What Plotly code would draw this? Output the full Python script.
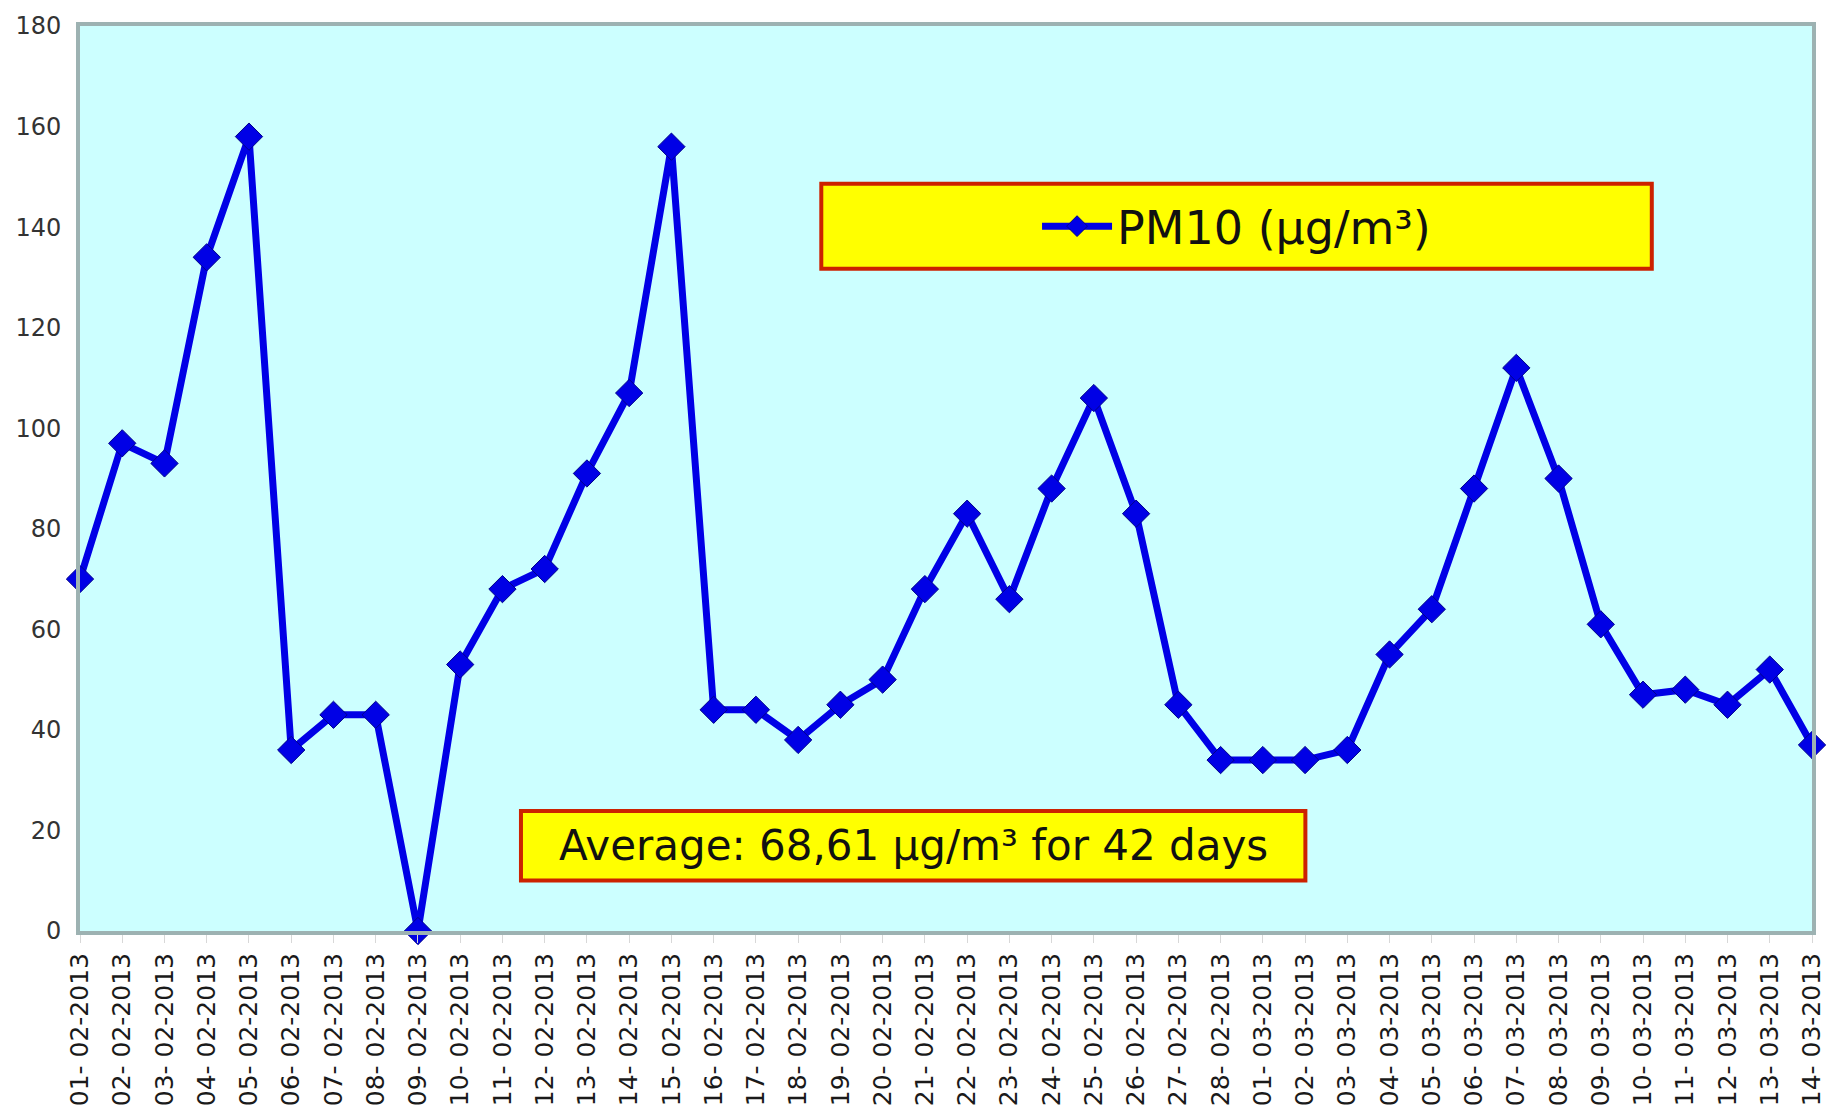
import plotly.graph_objects as go

dates = ["01- 02-2013", "02- 02-2013", "03- 02-2013", "04- 02-2013", "05- 02-2013",
         "06- 02-2013", "07- 02-2013", "08- 02-2013", "09- 02-2013", "10- 02-2013",
         "11- 02-2013", "12- 02-2013", "13- 02-2013", "14- 02-2013", "15- 02-2013",
         "16- 02-2013", "17- 02-2013", "18- 02-2013", "19- 02-2013", "20- 02-2013",
         "21- 02-2013", "22- 02-2013", "23- 02-2013", "24- 02-2013", "25- 02-2013",
         "26- 02-2013", "27- 02-2013", "28- 02-2013", "01- 03-2013", "02- 03-2013",
         "03- 03-2013", "04- 03-2013", "05- 03-2013", "06- 03-2013", "07- 03-2013",
         "08- 03-2013", "09- 03-2013", "10- 03-2013", "11- 03-2013", "12- 03-2013",
         "13- 03-2013", "14- 03-2013"]

pm10 = [70, 97, 93, 134, 158, 36, 43, 43, 0, 53,
        68, 72, 91, 107, 156, 44, 44, 38, 45, 50,
        68, 83, 66, 88, 106, 83, 45, 34, 34, 34,
        36, 55, 64, 88, 112, 90, 61, 47, 48, 45,
        52, 37]

y_ticks = [0, 20, 40, 60, 80, 100, 120, 140, 160, 180]

series_name = "PM10 (µg/m³)"
average_text = "Average: 68,61 µg/m³ for 42 days"

fig = go.Figure()
fig.add_trace(go.Scatter(
    x=dates, y=pm10, mode="lines+markers", name=series_name,
    line=dict(color="#0000E6", width=7),
    marker=dict(symbol="diamond", size=21, color="#0000E6",
                line=dict(color="#00008A", width=1)),
    cliponaxis=False,
))

box_line = dict(color="#CC2200", width=4)
# legend box
fig.add_shape(type="rect", xref="paper", yref="paper",
              x0=0.428, x1=0.9075, y0=0.7317, y1=0.8258,
              fillcolor="#FFFF00", line=box_line, layer="below")
# average box
fig.add_shape(type="rect", xref="paper", yref="paper",
              x0=0.2546, x1=0.7075, y0=0.0559, y1=0.1325,
              fillcolor="#FFFF00", line=box_line, layer="below")

fig.add_annotation(xref="paper", yref="paper", x=(0.2546 + 0.7075) / 2,
                   y=(0.0559 + 0.1325) / 2, text=average_text, showarrow=False,
                   xanchor="center", yanchor="middle",
                   font=dict(family="DejaVu Sans", size=42, color="#111111"))

fig.update_layout(
    width=1838, height=1118,
    margin=dict(l=80, r=18, t=19, b=186),
    paper_bgcolor="white",
    plot_bgcolor="#CCFFFF",
    showlegend=True,
    legend=dict(x=(0.428 + 0.9075) / 2, y=(0.7317 + 0.8258) / 2,
                xanchor="center", yanchor="middle",
                bgcolor="rgba(0,0,0,0)", borderwidth=0, itemwidth=70,
                font=dict(family="DejaVu Sans", size=46, color="#111111")),
    xaxis=dict(
        type="category", range=[0, 41], tickangle=-90,
        tickfont=dict(family="DejaVu Sans", size=25, color="#1a1a1a"),
        showgrid=False, zeroline=False,
        showline=True, linecolor="#9DB2B2", linewidth=4, mirror=True,
        ticks="outside", ticklen=8, tickcolor="#D8D8D8", tickwidth=1,
    ),
    yaxis=dict(
        range=[0, 180], tickvals=y_ticks, ticktext=[str(v) for v in y_ticks],
        tickfont=dict(family="DejaVu Sans", size=24, color="#333333"),
        showgrid=False, zeroline=False,
        showline=True, linecolor="#9DB2B2", linewidth=4, mirror=True,
        ticks="", ticklabelstandoff=10,
    ),
)

fig.write_html("out.html")
